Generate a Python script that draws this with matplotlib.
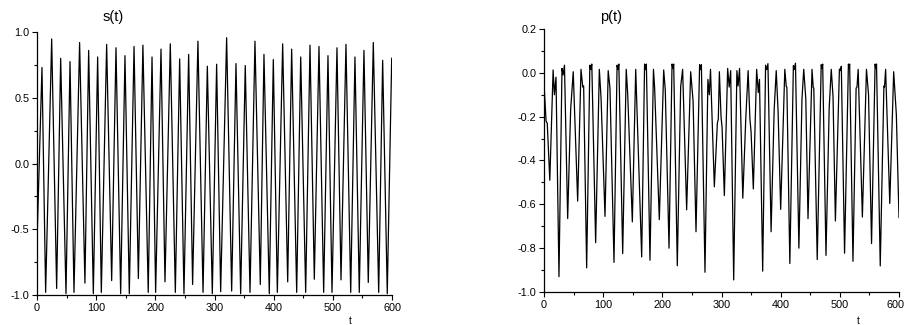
import matplotlib
matplotlib.use("Agg")
import matplotlib.pyplot as plt
from matplotlib.ticker import MultipleLocator, FuncFormatter, FormatStrFormatter

plt.rcParams['font.family'] = ['Liberation Sans', 'DejaVu Sans']

# s(t): time points of the extremes and their values
s_t = [0, 8.4, 14.6, 24.8, 33.2, 40.0, 49.0, 55.8, 62.5, 72.0, 81.0, 87.3, 95.2,
       102.5, 108.7, 117.7, 126.2, 133.5, 141.4, 148.7, 156.0, 164.0, 171.3,
       179.0, 188.0, 194.4, 200.5, 209.6, 216.3, 225.3, 233.8, 241.1, 248.4,
       256.3, 263.0, 272.0, 280.6, 287.9, 296.3, 303.6, 310.4, 320.5, 329.0,
       336.3, 344.2, 352.0, 360.0, 368.4, 377.4, 383.6, 392.6, 399.4, 406.2,
       415.2, 423.7, 430.4, 438.9, 445.7, 454.1, 461.4, 468.7, 476.6, 484.5,
       491.8, 498.6, 507.0, 513.8, 522.2, 530.2, 537.4, 544.7, 552.6, 559.9,
       568.4, 577.5, 584.2, 592.0, 599.5]
s_v = [-0.60, 0.73, -0.98, 0.947, -0.95, 0.80, -0.99, 0.775, -0.98, 0.92, -0.91,
       0.86, -0.99, 0.81, -0.98, 0.906, -0.89, 0.88, -0.99, 0.82, -0.99, 0.89,
       -0.875, 0.90, -0.98, 0.81, -0.98, 0.87, -0.90, 0.91, -0.98, 0.795, -0.99,
       0.83, -0.92, 0.93, -0.98, 0.74, -0.99, 0.755, -0.975, 0.957, -0.97, 0.76,
       -0.99, 0.745, -0.98, 0.93, -0.92, 0.83, -0.99, 0.79, -0.98, 0.91, -0.90,
       0.87, -0.98, 0.81, -0.98, 0.90, -0.88, 0.89, -0.98, 0.82, -0.98, 0.88,
       -0.885, 0.906, -0.98, 0.81, -0.98, 0.86, -0.905, 0.92, -0.98, 0.785,
       -0.99, 0.80]

# p(t): read points
p_t = [0, 3.5, 5.5, 9.8, 15.4, 17.6, 20.3, 25.3, 30.4, 32.3, 34.6, 40.0, 45.0,
       49.4, 56.9, 62.5, 65.5, 67.0, 72.1, 77.5, 79.0, 80.8, 87.3, 93.5, 96.5,
       103.1, 108.5, 111.5, 118.3, 123.5, 125.0, 126.5, 133.0, 139.0, 141.5,
       149.3, 155.0, 165.1, 170.0, 171.5, 173.0, 179.1, 185.0, 187.0, 194.9,
       202.3, 205.0, 211.3, 216.4, 218.0, 219.2, 225.3, 231.0, 234.3, 241.1,
       247.9, 252.0, 256.9, 263.0, 264.5, 266.0, 272.1, 277.0, 279.4, 281.4,
       287.9, 293.0, 294.6, 296.4, 299.2, 301.0, 304.8, 310.4, 313.0, 315.5,
       320.6, 326.0, 328.0, 330.5, 336.0, 341.0, 345.0, 348.0, 350.0, 353.8,
       359.4, 362.2, 364.2, 369.6, 374.5, 376.5, 378.5, 383.8, 389.0, 392.5,
       395.7, 400.0, 407.0, 409.5, 410.5, 415.5, 421.5, 423.0, 425.0, 430.8,
       436.0, 439.0, 442.5, 446.2, 453.0, 455.0, 456.0, 461.8, 468.5, 470.0,
       471.0, 476.6, 482.0, 485.5, 488.5, 492.5, 499.3, 501.0, 502.5, 508.0,
       514.5, 515.5, 516.6, 522.2, 527.5, 529.0, 531.0, 538.1, 545.0, 548.5,
       553.6, 559.6, 561.0, 562.0, 568.3, 574.5, 575.5, 577.4, 584.4, 591.0,
       595.5, 600.0]
p_v = [-0.05, -0.22, -0.23, -0.49, 0.013, -0.10, -0.02, -0.93, 0.02, -0.01,
       0.035, -0.665, -0.17, 0.005, -0.585, 0.016, -0.065, -0.06, -0.89, 0.035,
       0.015, 0.04, -0.775, 0.016, -0.12, -0.655, 0.01, -0.07, -0.865, 0.035,
       0.015, 0.04, -0.825, 0.016, -0.10, -0.68, 0.016, -0.84, 0.04, 0.015,
       0.04, -0.855, 0.016, -0.07, -0.67, 0.013, -0.08, -0.80, 0.04, 0.02,
       0.04, -0.88, -0.063, 0.016, -0.625, 0.005, -0.13, -0.725, 0.037, 0.015,
       0.037, -0.91, -0.03, -0.10, 0.016, -0.52, -0.23, -0.21, 0.005, -0.20,
       -0.25, -0.56, 0.02, -0.065, 0.01, -0.945, 0.01, -0.06, 0.02, -0.572,
       -0.21, 0.01, -0.21, -0.27, -0.53, 0.016, -0.09, -0.03, -0.905, 0.035,
       0.015, 0.042, -0.725, -0.17, 0.01, -0.18, -0.623, 0.016, -0.063, -0.065,
       -0.87, 0.033, 0.015, 0.044, -0.80, -0.12, 0.016, -0.12, -0.665, 0.016,
       -0.067, -0.07, -0.852, 0.037, 0.02, 0.04, -0.833, -0.16, 0.016, -0.108,
       -0.676, 0.017, 0.01, 0.03, -0.823, 0.04, 0.02, 0.04, -0.86, -0.07,
       -0.065, 0.016, -0.658, 0.016, -0.10, -0.779, 0.04, 0.02, 0.04, -0.881,
       -0.06, -0.065, 0.016, -0.596, 0.005, -0.19, -0.66]

W, H = 905, 325
fig = plt.figure(figsize=(W / 100, H / 100), dpi=100)

ax1 = fig.add_axes([37 / W, 1 - 295 / H, 355 / W, 263 / H])
ax2 = fig.add_axes([544 / W, 1 - 292 / H, 355 / W, 263 / H])

ax1.plot(s_t, s_v, color='black', lw=0.9)
ax2.plot(p_t, p_v, color='black', lw=0.9)

ax1.set_xlim(0, 600)
ax1.set_ylim(-1.0, 1.0)
ax1.yaxis.set_major_locator(MultipleLocator(0.5))
ax1.yaxis.set_minor_locator(MultipleLocator(0.25))
ax1.yaxis.set_major_formatter(FormatStrFormatter('%.1f'))

ax2.set_xlim(0, 600)
ax2.set_ylim(-1.0, 0.2)
ax2.yaxis.set_major_locator(MultipleLocator(0.2))
ax2.yaxis.set_minor_locator(MultipleLocator(0.1))
ax2.yaxis.set_major_formatter(FormatStrFormatter('%.1f'))

for ax in (ax1, ax2):
    ax.xaxis.set_major_locator(MultipleLocator(100))
    ax.xaxis.set_minor_locator(MultipleLocator(50))
    for sp in ('top', 'right'):
        ax.spines[sp].set_visible(False)
    for sp in ('left', 'bottom'):
        ax.spines[sp].set_linewidth(0.9)
    ax.tick_params(which='major', direction='out', length=3.5, width=0.8,
                   labelsize=7.8, pad=2)
    ax.tick_params(which='minor', direction='out', length=2, width=0.8)

# the last label of the right panel sits at the figure edge: draw it right-aligned
ax2.xaxis.set_major_formatter(FuncFormatter(lambda v, pos: '' if v >= 600 else f'{v:.0f}'))
fig.text(904 / W, 1 - 299.5 / H, '600', ha='right', va='top', fontsize=7.8)

fig.text(113 / W, 1 - 17 / H, 's(t)', ha='center', va='center', fontsize=10.5)
fig.text(611 / W, 1 - 17 / H, 'p(t)', ha='center', va='center', fontsize=10.5)
fig.text(350 / W, 1 - 321 / H, 't', ha='center', va='center', fontsize=7)
fig.text(858 / W, 1 - 321 / H, 't', ha='center', va='center', fontsize=7)

fig.savefig('out.png', dpi=100)
